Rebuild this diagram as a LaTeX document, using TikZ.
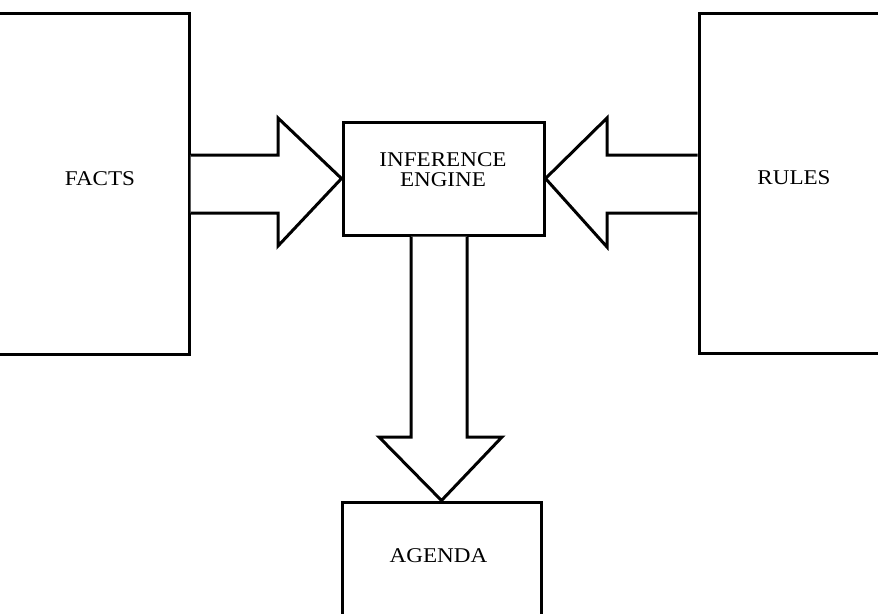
\documentclass[tikz,border=0pt]{standalone}
\usepackage{fontspec}
\setmainfont{Liberation Serif}[FakeStretch=1.1]
\begin{document}
\begin{tikzpicture}[x=1pt,y=-1pt,
  block/.style={draw, line width=3pt, rectangle, inner sep=0pt},
  label text/.style={inner sep=0pt, align=center, font=\fontsize{21}{20}\selectfont},
  fat arrow/.style={draw, line width=3pt, line join=miter, fill=white}]
  \useasboundingbox (0,0) rectangle (878,613);
  \clip (0,0) rectangle (878,613);

  % storage blocks (outer edges run past the page)
  \node[block, minimum width=229pt, minimum height=341pt] (facts) at (74.5,183.5) {};
  \node[block, minimum width=221pt, minimum height=340pt] (rules) at (809.5,183) {};
  \node[block, minimum width=201pt, minimum height=113pt] (ie) at (443.5,178.5) {};
  \node[block, minimum width=199pt, minimum height=158pt] (agenda) at (441.5,581) {};

  % labels
  \node[label text, anchor=base] (factslbl) at (100,185) {FACTS};
  \node[label text, anchor=base] (ruleslbl) at (794,184) {RULES};
  \node[label text] (ielbl) at (443,170) {INFERENCE\\ENGINE};
  \node[label text, anchor=base] (agendalbl) at (438.5,562) {AGENDA};

  % block arrows
  \draw[fat arrow] (facts.east |- 0,155) -- (278,155) -- (278,118) -- (ie.west)
        -- (278,246) -- (278,213) -- (facts.east |- 0,213);
  \draw[fat arrow] (rules.west |- 0,155) -- (607,155) -- (607,118) -- (ie.east)
        -- (607,247) -- (607,213) -- (rules.west |- 0,213);
  \draw[fat arrow] (411,0 |- ie.south) -- (411,437) -- (379,437) -- (agenda.north)
        -- (502,437) -- (467,437) -- (467,0 |- ie.south);
\end{tikzpicture}
\end{document}
